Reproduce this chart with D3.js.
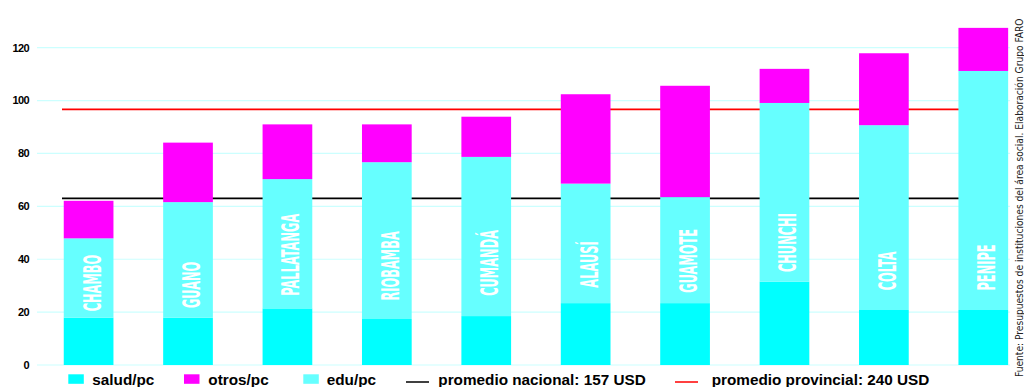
<!DOCTYPE html>
<html><head><meta charset="utf-8">
<script src="https://cdn.jsdelivr.net/npm/d3@7"></script>
<style>
html,body{margin:0;padding:0;background:#fff;}
svg{display:block;}
</style></head>
<body>
<svg id="chart" width="1024" height="387"></svg>
<script>
const categories = ["CHAMBO","GUANO","PALLATANGA","RIOBAMBA","CUMANDÁ","ALAUSÍ","GUAMOTE","CHUNCHI","COLTA","PENIPE"];
const salud = [17.9, 17.9, 21.4, 17.4, 18.5, 23.4, 23.4, 31.5, 20.8, 20.8];
const edu   = [30.0, 43.7, 48.9, 59.3, 60.2, 45.2, 40.1, 67.6, 69.9, 90.4];
const otros = [14.2, 22.5, 20.7, 14.3, 15.2, 33.8, 42.1, 12.9, 27.2, 16.3];
const labelMid = [31.0, 30.3, 41.7, 37.5, 38.6, 38.0, 39.4, 46.3, 35.6, 36.9];
const yTicks = [0, 20, 40, 60, 80, 100, 120];
const promedioNacional = 63.0;
const promedioProvincial = 96.7;
const legendLabels = ["salud/pc","otros/pc","edu/pc","promedio nacional: 157 USD","promedio provincial: 240 USD"];
const sourceText = "Fuente: Presupuestos de instituciones del área social. Elaboración Grupo FARO";

const C_SALUD = "#00ffff", C_EDU = "#66ffff", C_OTROS = "#ff00ff";

const svg = d3.select("#chart");
const x = d3.scaleBand().domain(categories).range([38.9, 1033]).paddingInner(0.5).paddingOuter(0.25);
const y = d3.scaleLinear().domain([0, 120]).range([365, 47.7]);

// gridlines
svg.append("g").selectAll("line").data(yTicks).join("line")
  .attr("x1", 37).attr("x2", 1010)
  .attr("y1", d => y(d)).attr("y2", d => y(d))
  .attr("stroke", "#ccffff").attr("stroke-width", 1.2);

// y tick labels
svg.append("g").selectAll("text").data(yTicks).join("text")
  .attr("x", 29).attr("y", d => y(d)).attr("dy", "0.35em")
  .attr("text-anchor", "end")
  .attr("font-family", "Liberation Sans, Arial, sans-serif")
  .attr("font-weight", "bold").attr("font-size", 11).attr("letter-spacing", -0.6)
  .attr("fill", "#000").text(d => d);

// average lines (behind bars)
svg.append("line").attr("x1", 62).attr("x2", 1008)
  .attr("y1", y(promedioNacional)).attr("y2", y(promedioNacional))
  .attr("stroke", "#000").attr("stroke-width", 1.8);
svg.append("line").attr("x1", 62).attr("x2", 1008)
  .attr("y1", y(promedioProvincial)).attr("y2", y(promedioProvincial))
  .attr("stroke", "#ff0000").attr("stroke-width", 1.8);

// stacked bars
const rows = categories.map((c, i) => ({cat: c, salud: salud[i], edu: edu[i], otros: otros[i]}));
const stack = d3.stack().keys(["salud", "edu", "otros"])(rows);
const colors = {salud: C_SALUD, edu: C_EDU, otros: C_OTROS};
svg.append("g").selectAll("g").data(stack).join("g")
  .attr("fill", d => colors[d.key])
  .selectAll("rect").data(d => d).join("rect")
  .attr("x", d => x(d.data.cat))
  .attr("width", x.bandwidth())
  .attr("y", d => y(d[1]))
  .attr("height", d => y(d[0]) - y(d[1]));

// bar labels (condensed look via horizontal scale)
const lblG = svg.append("g");
const labels = lblG.selectAll("text").data(categories).join("text")
  .attr("text-anchor", "middle")
  .attr("font-family", "Liberation Sans Narrow, DejaVu Sans Condensed, sans-serif")
  .attr("font-weight", "bold").attr("font-size", 24)
  .attr("fill", "#fff").text(d => d);
const refLen = labels.nodes()[0].getComputedTextLength();
const lblScale = 56.7 / refLen;
labels.attr("transform", (d, i) => `translate(${x(d) + x.bandwidth() / 2 + 12},${y(labelMid[i])}) rotate(-90) scale(${lblScale},1)`);

// legend
const lg = svg.append("g");
const legendItems = [
  {type: "rect", color: C_SALUD, sx: 68.3, tx: 92.3},
  {type: "rect", color: C_OTROS, sx: 184, tx: 208.3},
  {type: "rect", color: C_EDU, sx: 303.3, tx: 326.7},
  {type: "line", color: "#000", sx: 406, tx: 438.3},
  {type: "line", color: "#ff0000", sx: 675, tx: 711.7}
];
legendItems.forEach((it, i) => {
  if (it.type === "rect") {
    lg.append("rect").attr("x", it.sx).attr("y", 374.3).attr("width", 15.5).attr("height", 9.5).attr("fill", it.color);
  } else {
    lg.append("line").attr("x1", it.sx).attr("x2", it.sx + 23).attr("y1", 382).attr("y2", 382)
      .attr("stroke", it.color).attr("stroke-width", 1.5);
  }
  lg.append("text").attr("x", it.tx).attr("y", 384.5)
    .attr("font-family", "Liberation Sans, Arial, sans-serif")
    .attr("font-weight", "bold").attr("font-size", 15.3)
    .attr("fill", "#000").text(legendLabels[i]);
});

// source text
const src = svg.append("text")
  .attr("font-family", "Liberation Sans Narrow, DejaVu Sans Condensed, sans-serif")
  .attr("font-size", 11).attr("fill", "#222").text(sourceText);
const len = src.node().getComputedTextLength();
const sc = 359 / len;
src.attr("transform", `translate(1023,377) rotate(-90) scale(${sc},1)`);
</script>
</body></html>
